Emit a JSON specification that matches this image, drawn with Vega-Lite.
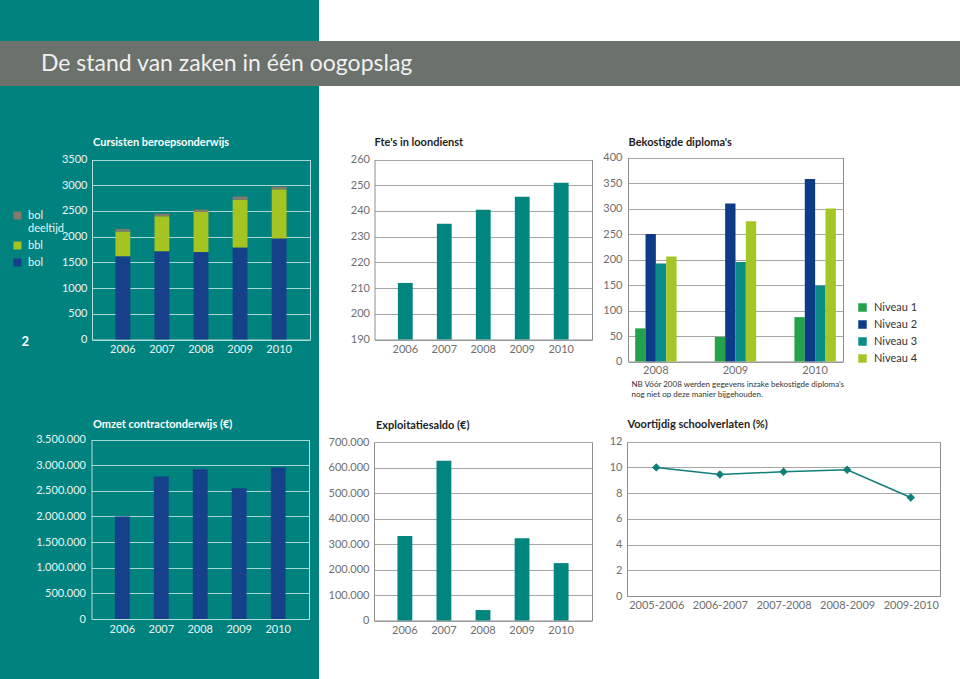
{
  "$schema": "https://vega.github.io/schema/vega-lite/v6.json",
  "background": "#ffffff",
  "padding": 0,
  "spacing": 0,
  "config": {
    "font": "Lato",
    "view": {"stroke": null},
    "concat": {"spacing": 0},
    "locale": {"number": {"decimal": ",", "thousands": ".", "grouping": [3], "currency": ["€ ", ""]}},
    "axis": {"ticks": false, "tickSize": 0, "labelFont": "Lato", "labelFontSize": 11, "titleFont": "Lato", "domainWidth": 1, "gridWidth": 1, "labelColor": "#6e6e6e", "domainColor": "#8e8e8e", "gridColor": "#a6a6a6"},
    "title": {"anchor": "start", "frame": "group", "offset": 0, "baseline": "alphabetic", "font": "Lato", "fontSize": 11, "fontWeight": "bold", "color": "#1e1e1e"},
    "legend": {"symbolType": "square", "symbolStrokeWidth": 0, "labelFont": "Lato", "labelFontSize": 11}
  },
  "datasets": {
    "cursisten": [
      {"jaar": "2006", "type": "bol", "aantal": 1620},
      {"jaar": "2006", "type": "bbl", "aantal": 480},
      {"jaar": "2006", "type": "bol deeltijd", "aantal": 50},
      {"jaar": "2007", "type": "bol", "aantal": 1715},
      {"jaar": "2007", "type": "bbl", "aantal": 680},
      {"jaar": "2007", "type": "bol deeltijd", "aantal": 50},
      {"jaar": "2008", "type": "bol", "aantal": 1700},
      {"jaar": "2008", "type": "bbl", "aantal": 780},
      {"jaar": "2008", "type": "bol deeltijd", "aantal": 45},
      {"jaar": "2009", "type": "bol", "aantal": 1790},
      {"jaar": "2009", "type": "bbl", "aantal": 925},
      {"jaar": "2009", "type": "bol deeltijd", "aantal": 65},
      {"jaar": "2010", "type": "bol", "aantal": 1965},
      {"jaar": "2010", "type": "bbl", "aantal": 955},
      {"jaar": "2010", "type": "bol deeltijd", "aantal": 50}
    ],
    "fte": [
      {"jaar": "2006", "fte": 212},
      {"jaar": "2007", "fte": 235},
      {"jaar": "2008", "fte": 240.5},
      {"jaar": "2009", "fte": 245.5},
      {"jaar": "2010", "fte": 251}
    ],
    "diplomas": [
      {"jaar": "2008", "niveau": "Niveau 1", "aantal": 65},
      {"jaar": "2008", "niveau": "Niveau 2", "aantal": 250},
      {"jaar": "2008", "niveau": "Niveau 3", "aantal": 192},
      {"jaar": "2008", "niveau": "Niveau 4", "aantal": 206},
      {"jaar": "2009", "niveau": "Niveau 1", "aantal": 48},
      {"jaar": "2009", "niveau": "Niveau 2", "aantal": 310},
      {"jaar": "2009", "niveau": "Niveau 3", "aantal": 195},
      {"jaar": "2009", "niveau": "Niveau 4", "aantal": 275},
      {"jaar": "2010", "niveau": "Niveau 1", "aantal": 87},
      {"jaar": "2010", "niveau": "Niveau 2", "aantal": 358},
      {"jaar": "2010", "niveau": "Niveau 3", "aantal": 149},
      {"jaar": "2010", "niveau": "Niveau 4", "aantal": 300}
    ],
    "omzet": [
      {"jaar": "2006", "omzet": 2000000},
      {"jaar": "2007", "omzet": 2780000},
      {"jaar": "2008", "omzet": 2920000},
      {"jaar": "2009", "omzet": 2550000},
      {"jaar": "2010", "omzet": 2955000}
    ],
    "explo": [
      {"jaar": "2006", "saldo": 331000},
      {"jaar": "2007", "saldo": 626000},
      {"jaar": "2008", "saldo": 41000},
      {"jaar": "2009", "saldo": 323000},
      {"jaar": "2010", "saldo": 225000}
    ],
    "voortijdig": [
      {"periode": "2005-2006", "pct": 10.0},
      {"periode": "2006-2007", "pct": 9.45},
      {"periode": "2007-2008", "pct": 9.66},
      {"periode": "2008-2009", "pct": 9.82},
      {"periode": "2009-2010", "pct": 7.66}
    ]
  },
  "vconcat": [
    {
      "width": 319, "height": 41,
      "data": {"values": []},
      "mark": "point",
      "view": {"fill": "#00827e", "stroke": null}
    },
    {
      "width": 960, "height": 45,
      "data": {"values": []},
      "mark": "point",
      "view": {"fill": "#6b716b", "stroke": null},
      "title": {"text": "De stand van zaken in één oogopslag", "dx": 41, "dy": 39, "fontSize": 23, "fontWeight": "normal", "color": "#f0f0f0"}
    },
    {
      "spacing": 0,
      "resolve": {"scale": {"color": "independent"}, "legend": {"color": "independent"}},
      "hconcat": [
        {
          "width": 319, "height": 314,
          "view": {"fill": "#00827e", "stroke": null},
          "data": {"name": "cursisten"},
          "transform": [{"calculate": "indexof(['bol','bbl','bol deeltijd'], datum.type)", "as": "volgorde"}],
          "title": {"text": "Cursisten beroepsonderwijs", "dx": 93, "dy": 65.5, "color": "#ffffff"},
          "encoding": {
            "x": {"field": "jaar", "type": "ordinal", "scale": {"range": [92, 310], "paddingInner": 0.62, "paddingOuter": 0.6},
                  "axis": {"title": null, "labelAngle": 0, "offset": -60.5, "labelPadding": 4, "labelColor": "#eaf5f4", "domainColor": "#b3dfdb"}}
          },
          "layer": [
            {
              "mark": {"type": "bar"},
              "encoding": {
                "y": {"field": "aantal", "type": "quantitative", "stack": "zero",
                      "scale": {"domain": [0, 3500], "range": [253.5, 73.5], "nice": false},
                      "axis": {"values": [0, 500, 1000, 1500, 2000, 2500, 3000, 3500], "format": "d", "offset": -92, "grid": true, "gridColor": "#a6d8d4", "domainColor": "#b3dfdb", "labelColor": "#eaf5f4", "labelPadding": 5,
                               "title": "2", "titleAngle": 0, "titleX": -71, "titleY": 259, "titleAlign": "left", "titleBaseline": "alphabetic", "titleColor": "#ffffff", "titleFontSize": 13, "titleFontWeight": "bold"}},
                "color": {"field": "type", "type": "nominal",
                          "scale": {"domain": ["bol deeltijd", "bbl", "bol"], "range": ["#857a6a", "#a5c421", "#16408a"]},
                          "legend": {"orient": "none", "legendX": 12, "legendY": 124, "title": null, "symbolSize": 64, "labelColor": "#eaf5f4", "labelOffset": 5, "rowPadding": 5,
                                     "labelExpr": "datum.label == 'bol deeltijd' ? ['bol', 'deeltijd'] : datum.label"}},
                "order": {"field": "volgorde", "type": "quantitative"}
              }
            },
            {
              "mark": {"type": "point", "opacity": 0},
              "encoding": {
                "y": {"datum": 0, "type": "quantitative", "axis": {"orient": "right", "offset": -9, "labels": false, "grid": false, "title": null, "domainColor": "#b3dfdb"}}
              }
            }
          ],
          "resolve": {"axis": {"y": "independent"}}
        },
        {
          "width": 281, "height": 314,
          "data": {"name": "fte"},
          "title": {"text": "Fte's in loondienst", "dx": 55.5, "dy": 65.5},
          "encoding": {
            "x": {"field": "jaar", "type": "ordinal", "scale": {"range": [55.5, 273], "paddingInner": 0.62, "paddingOuter": 0.6},
                  "axis": {"title": null, "labelAngle": 0, "offset": -60.5, "labelPadding": 4}}
          },
          "layer": [
            {
              "mark": {"type": "bar", "color": "#00857f"},
              "encoding": {
                "y": {"field": "fte", "type": "quantitative", "stack": null,
                      "scale": {"domain": [190, 260], "range": [253.5, 73.5], "nice": false, "zero": false},
                      "axis": {"values": [190, 200, 210, 220, 230, 240, 250, 260], "format": "d", "offset": -55.5, "grid": true, "labelPadding": 5, "title": null}},
                "y2": {"datum": 190}
              }
            },
            {
              "mark": {"type": "point", "opacity": 0},
              "encoding": {
                "y": {"datum": 200, "type": "quantitative", "axis": {"orient": "right", "offset": -8, "labels": false, "grid": false, "title": null}}
              }
            }
          ],
          "resolve": {"axis": {"y": "independent"}}
        },
        {
          "width": 360, "height": 314,
          "data": {"name": "diplomas"},
          "title": {"text": "Bekostigde diploma's", "dx": 28.5, "dy": 65.5},
          "encoding": {
            "x": {"field": "jaar", "type": "ordinal", "scale": {"range": [28, 243], "paddingInner": 0.48, "paddingOuter": 0.09},
                  "axis": {"labelAngle": 0, "offset": -38.5, "labelPadding": 3,
                           "title": ["NB Vóór 2008 werden gegevens inzake bekostigde diploma's", "nog niet op deze manier bijgehouden."],
                           "titleFontSize": 8, "titleFontWeight": "normal", "titleColor": "#333333", "titleX": 31, "titleY": 24.5, "titleAlign": "left", "titleAnchor": "start", "titleBaseline": "alphabetic", "titleLineHeight": 10.7}}
          },
          "layer": [
            {
              "mark": {"type": "bar"},
              "encoding": {
                "xOffset": {"field": "niveau", "type": "nominal", "scale": {"paddingInner": 0}},
                "y": {"field": "aantal", "type": "quantitative",
                      "scale": {"domain": [0, 400], "range": [275.5, 71.5], "nice": false},
                      "axis": {"values": [0, 50, 100, 150, 200, 250, 300, 350, 400], "format": "d", "offset": -28, "grid": true, "labelPadding": 6, "title": null}},
                "color": {"field": "niveau", "type": "nominal",
                          "scale": {"domain": ["Niveau 1", "Niveau 2", "Niveau 3", "Niveau 4"], "range": ["#23a24b", "#0e3b88", "#0a8c87", "#a6c626"]},
                          "legend": {"orient": "none", "legendX": 257, "legendY": 216, "title": null, "symbolSize": 72, "labelColor": "#333333", "labelOffset": 6, "rowPadding": 5}}
              }
            },
            {
              "mark": {"type": "point", "opacity": 0},
              "encoding": {
                "y": {"datum": 0, "type": "quantitative", "axis": {"orient": "right", "offset": -117, "labels": false, "grid": false, "title": null}}
              }
            }
          ],
          "resolve": {"axis": {"y": "independent"}}
        }
      ]
    },
    {
      "spacing": 0,
      "hconcat": [
        {
          "width": 319, "height": 279,
          "view": {"fill": "#00827e", "stroke": null},
          "data": {"name": "omzet"},
          "title": {"text": "Omzet contractonderwijs (€)", "dx": 93, "dy": 34, "color": "#ffffff"},
          "encoding": {
            "x": {"field": "jaar", "type": "ordinal", "scale": {"range": [91.5, 309], "paddingInner": 0.62, "paddingOuter": 0.6},
                  "axis": {"title": null, "labelAngle": 0, "offset": -60, "labelPadding": 4, "labelColor": "#eaf5f4", "domainColor": "#b3dfdb"}}
          },
          "layer": [
            {
              "mark": {"type": "bar", "color": "#16408a"},
              "encoding": {
                "y": {"field": "omzet", "type": "quantitative",
                      "scale": {"domain": [0, 3500000], "range": [219, 39.5], "nice": false},
                      "axis": {"values": [0, 500000, 1000000, 1500000, 2000000, 2500000, 3000000, 3500000], "format": ",d", "offset": -91.5, "grid": true, "gridColor": "#a6d8d4", "domainColor": "#b3dfdb", "labelColor": "#eaf5f4", "labelPadding": 6, "title": null}}
              }
            },
            {
              "mark": {"type": "point", "opacity": 0},
              "encoding": {
                "y": {"datum": 0, "type": "quantitative", "axis": {"orient": "right", "offset": -10, "labels": false, "grid": false, "title": null, "domainColor": "#b3dfdb"}}
              }
            }
          ],
          "resolve": {"axis": {"y": "independent"}}
        },
        {
          "width": 281, "height": 279,
          "data": {"name": "explo"},
          "title": {"text": "Exploitatiesaldo (€)", "dx": 57, "dy": 35},
          "encoding": {
            "x": {"field": "jaar", "type": "ordinal", "scale": {"range": [55, 273], "paddingInner": 0.62, "paddingOuter": 0.6},
                  "axis": {"title": null, "labelAngle": 0, "offset": -58.5, "labelPadding": 4}}
          },
          "layer": [
            {
              "mark": {"type": "bar", "color": "#00857f"},
              "encoding": {
                "y": {"field": "saldo", "type": "quantitative",
                      "scale": {"domain": [0, 700000], "range": [220.5, 42], "nice": false},
                      "axis": {"values": [0, 100000, 200000, 300000, 400000, 500000, 600000, 700000], "format": ",d", "offset": -55, "grid": true, "labelPadding": 5, "title": null}}
              }
            },
            {
              "mark": {"type": "point", "opacity": 0},
              "encoding": {
                "y": {"datum": 0, "type": "quantitative", "axis": {"orient": "right", "offset": -8, "labels": false, "grid": false, "title": null}}
              }
            }
          ],
          "resolve": {"axis": {"y": "independent"}}
        },
        {
          "width": 360, "height": 279,
          "data": {"name": "voortijdig"},
          "title": {"text": "Voortijdig schoolverlaten (%)", "dx": 27.5, "dy": 34},
          "encoding": {
            "x": {"field": "periode", "type": "ordinal", "scale": {"type": "point", "range": [27, 340], "padding": 0.46},
                  "axis": {"title": null, "labelAngle": 0, "offset": -83, "labelPadding": 3}}
          },
          "layer": [
            {
              "mark": {"type": "line", "color": "#0f7f7b", "strokeWidth": 1.5,
                       "point": {"shape": "diamond", "filled": true, "size": 70, "color": "#0f7f7b"}},
              "encoding": {
                "y": {"field": "pct", "type": "quantitative",
                      "scale": {"domain": [0, 12], "range": [196, 41.7], "nice": false},
                      "axis": {"values": [0, 2, 4, 6, 8, 10, 12], "format": "d", "offset": -27, "grid": true, "labelPadding": 5, "title": null}}
              }
            },
            {
              "mark": {"type": "point", "opacity": 0},
              "encoding": {
                "y": {"datum": 0, "type": "quantitative", "axis": {"orient": "right", "offset": -20, "labels": false, "grid": false, "title": null}}
              }
            }
          ],
          "resolve": {"axis": {"y": "independent"}}
        }
      ]
    }
  ]
}
